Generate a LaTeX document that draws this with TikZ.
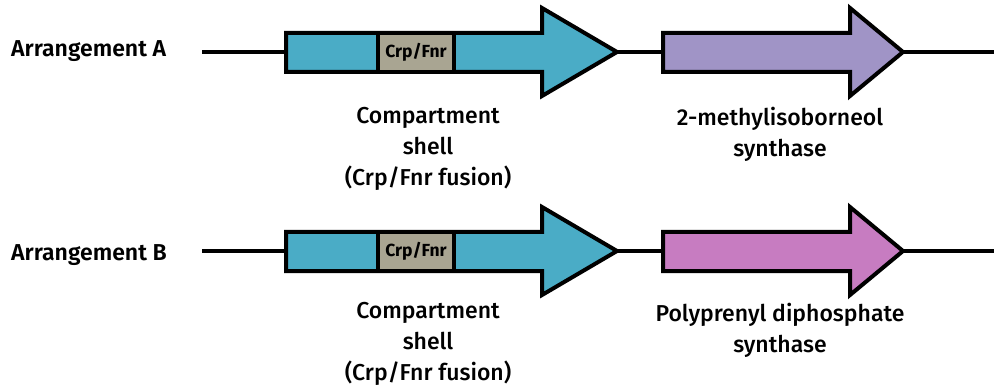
\documentclass[tikz,border=0pt]{standalone}
\usepackage{fontspec}
\setmainfont{Fira Sans}
\newfontfamily\descfont{Fira Sans}[UprightFont=* Medium]
\newfontfamily\labfont{Fira Sans}[UprightFont=* SemiBold]
\definecolor{shellblue}{HTML}{4AACC6}
\definecolor{crpgray}{HTML}{A9A592}
\definecolor{mibpurple}{HTML}{A094C6}
\definecolor{ppink}{HTML}{C77CC1}
\tikzset{
  gene/.style={draw=black,line width=4pt,line join=miter},
  backbone/.style={draw=black,line width=3.2pt},
  rowlabel/.style={anchor=west,font=\labfont\fontsize{23}{26}\selectfont,inner sep=0pt},
  desc/.style={align=center,font=\descfont\fontsize{23}{31}\selectfont,inner sep=0pt,anchor=north},
  crp/.style={font=\bfseries\fontsize{17.5}{20}\selectfont}
}
\begin{document}
\begin{tikzpicture}[x=1pt,y=-1pt]
\useasboundingbox (0,0) rectangle (995,387);
\foreach \row/\dy/\ly/\dly/\lab/\col/\txt in {A/0/51/107/Arrangement A/mibpurple/{2-methylisoborneol\\synthase},B/199/56.5/103.5/Arrangement B/ppink/{Polyprenyl diphosphate\\synthase}}{
  \begin{scope}[yshift=-\dy pt]
    \node[rowlabel] (lab\row) at (11,\ly) {\lab};
    \coordinate (start\row) at (202,52);
    \coordinate (end\row) at (994,52);
    \coordinate (tipS\row) at (617,52);
    \coordinate (baseP\row) at (663,52);
    \coordinate (tipP\row) at (903,52);
    \draw[backbone] (start\row) -- (end\row);
    \draw[gene,fill=shellblue] (286,33) -- (542,33) -- (542,8) -- (tipS\row) -- (542,96) -- (542,72) -- (286,72) -- cycle;
    \draw[gene,fill=crpgray] (378,33) rectangle (454,72);
    \node[crp] (crp\row) at (416,52.5) {Crp/Fnr};
    \draw[gene,fill=\col] (663,33) -- (850,33) -- (850,8) -- (tipP\row) -- (850,96) -- (850,72) -- (663,72) -- cycle;
    \node[desc] (shell\row) at (428,\dly) {Compartment\\shell\\(Crp/Fnr fusion)};
    \node[desc] (enz\row) at (780,\dly) {\txt};
  \end{scope}
}
\end{tikzpicture}
\end{document}
